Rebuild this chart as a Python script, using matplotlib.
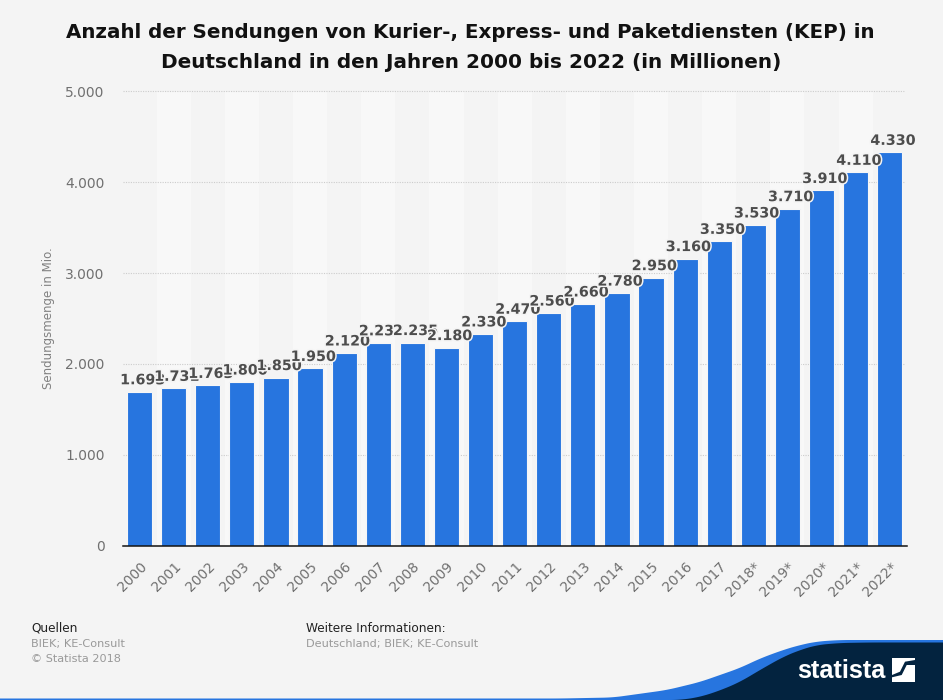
#!/usr/bin/python3

import numpy as np
import matplotlib.pyplot as plt
import matplotlib.transforms as mtrans
from matplotlib.patches import Polygon, Rectangle
import matplotlib.patheffects as pe

years = ["2000", "2001", "2002", "2003", "2004", "2005", "2006", "2007", "2008", "2009", "2010", "2011",
         "2012", "2013", "2014", "2015", "2016", "2017", "2018*", "2019*", "2020*", "2021*", "2022*"]
values = [1693, 1731, 1763, 1800, 1850, 1950, 2120, 2232, 2235, 2180, 2330, 2470,
          2560, 2660, 2780, 2950, 3160, 3350, 3530, 3710, 3910, 4110, 4330]
value_labels = ["1.693", "1.731", "1.763", "1.800", "1.850", "1.950", "2.120", "2.232", "2.235", "2.180",
                "2.330", "2.470", "2.560", "2.660", "2.780", "2.950", "3.160", "3.350", "3.530", "3.710",
                "3.910", "4.110", "4.330"]
y_ticks = [0, 1000, 2000, 3000, 4000, 5000]
y_tick_labels = ["0", "1.000", "2.000", "3.000", "4.000", "5.000"]

W, H = 943, 700
BG = "#f4f4f4"
BLUE = "#2775df"
NAVY = "#03233f"

fig = plt.figure(figsize=(W / 100, H / 100), dpi=100, facecolor=BG)
ax = fig.add_axes([122.5 / W, 1 - 545.5 / H, 784.3 / W, 454 / H], facecolor=BG)

x = np.arange(len(values))
for i in x[1::2]:
    ax.axvspan(i - 0.5, i + 0.5, color="#f8f8f8", lw=0, zorder=0)
ax.bar(x, values, width=0.74, color=BLUE, edgecolor="#f6f6f6", linewidth=0.8, zorder=3)

ax.set_xlim(-0.5, len(values) - 0.5)
ax.set_ylim(0, 5000)
ax.set_yticks(y_ticks)
ax.set_yticklabels(y_tick_labels, fontsize=10, color="#707070")
ax.set_xticks(x)
ax.set_xticklabels(years, rotation=45, ha="right", rotation_mode="anchor", fontsize=10, color="#707070")
shift = mtrans.ScaledTranslation(-4 / 100, 0, fig.dpi_scale_trans)
for lab in ax.get_xticklabels():
    lab.set_transform(lab.get_transform() + shift)
ax.tick_params(axis="both", length=0)
ax.tick_params(axis="y", pad=13)
ax.tick_params(axis="x", pad=10)
ax.hlines(y_ticks[1:], -0.5, len(values) - 0.56, color="#cccccc", linestyle=(0, (1, 1.2)), linewidth=0.8,
          zorder=1, clip_on=False)
for s in ["top", "left", "right"]:
    ax.spines[s].set_visible(False)
ax.spines["bottom"].set_color("#111111")
ax.spines["bottom"].set_linewidth(1.1)
ax.spines["bottom"].set_zorder(6)
ax.set_ylabel("Sendungsmenge in Mio.", fontsize=8.5, color="#808080")
ax.yaxis.set_label_coords((55 - 122.5) / 784.3, 0.5)

# labels sit a bit right of the bar, later ones cover earlier ones
for i, (v, lab) in enumerate(zip(values, value_labels)):
    ax.annotate(lab, (i, v), xytext=(2.2, 5.4), textcoords="offset points", ha="center", va="baseline",
                fontsize=10.3, fontweight="bold", color="#4d4d4d", zorder=5 + i * 0.01,
                path_effects=[pe.withStroke(linewidth=2.2, foreground=BG)])

fig.text(470 / W, 1 - 33 / H, "Anzahl der Sendungen von Kurier-, Express- und Paketdiensten (KEP) in",
         ha="center", va="center", fontsize=14.35, fontweight="bold", color="#111111")
fig.text(471 / W, 1 - 62 / H, "Deutschland in den Jahren 2000 bis 2022 (in Millionen)",
         ha="center", va="center", fontsize=14.42, fontweight="bold", color="#111111")

fig.text(31 / W, 1 - 628 / H, "Quellen", fontsize=8.7, color="#222222", va="center")
fig.text(31 / W, 1 - 644 / H, "BIEK; KE-Consult", fontsize=8.1, color="#999999", va="center")
fig.text(31 / W, 1 - 659 / H, "© Statista 2018", fontsize=8.1, color="#999999", va="center")
fig.text(306 / W, 1 - 628 / H, "Weitere Informationen:", fontsize=8.7, color="#222222", va="center")
fig.text(306 / W, 1 - 644 / H, "Deutschland; BIEK; KE-Consult", fontsize=8.1, color="#999999", va="center")

# footer wave and logo, in pixel coords
bg = fig.add_axes([0, 0, 1, 1], facecolor="none", zorder=-1)
bg.set_xlim(0, W)
bg.set_ylim(H, 0)
bg.axis("off")
blue_x = [0, 560, 613, 667, 700, 740, 760, 783, 800, 817, 840, 943]
blue_y = [698.5, 698.5, 697.5, 690, 682, 668, 658.5, 650, 645, 641.5, 640, 640]
navy_x = [0, 680, 700, 720, 740, 760, 783, 800, 817, 840, 870, 943]
navy_y = [700, 700, 697, 690.5, 682, 670, 657, 650, 645, 643, 642.5, 642.5]


def wave(px, py):
    # dense resample and a small running mean so the edge is not kinked
    xs = np.arange(-20, W + 21)
    ys = np.interp(xs, px, py)
    ys = np.convolve(ys, np.ones(21) / 21, mode="valid")
    return list(zip(xs[10:-10], ys))


bg.add_patch(Polygon(wave(blue_x, blue_y) + [(W, H), (0, H)], color=BLUE, lw=0))
bg.add_patch(Polygon(wave(navy_x, navy_y) + [(W, H), (0, H)], color=NAVY, lw=0))

bg.text(841, 671.5, "statista", ha="center", va="center", color="white", fontsize=18.3, fontweight="bold",
        family=["Liberation Sans Narrow", "Liberation Sans"])
bg.add_patch(Rectangle((892, 658), 23, 24, color="white", lw=0))
bg.add_patch(Polygon([(892, 675), (900, 671.7), (905, 661.7), (915, 660), (915, 665), (906.7, 665),
                      (901.7, 675), (892, 677.3)], color=NAVY, lw=0))

fig.savefig("out.png", dpi=100, facecolor=BG)
